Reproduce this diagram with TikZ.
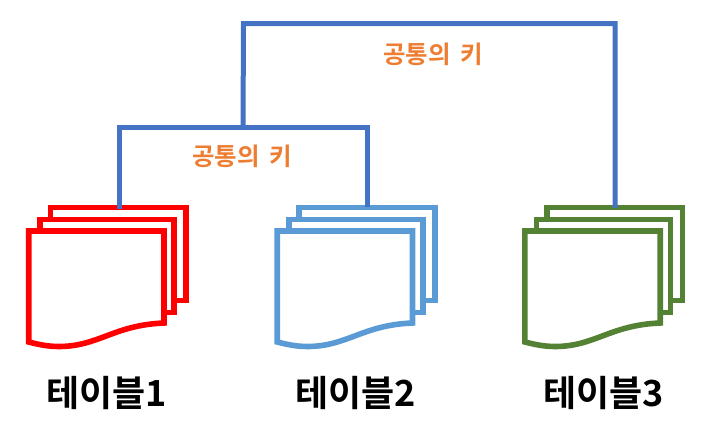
\documentclass[tikz,border=0pt]{standalone}
\usepackage{fontspec}
\newfontfamily\krfont{Noto Sans CJK KR}[BoldFont={Noto Sans CJK KR Bold}]
\definecolor{keyblue}{HTML}{4472C4}
\definecolor{keyorange}{HTML}{ED7D31}
\definecolor{docblue}{HTML}{5B9BD5}
\definecolor{docgreen}{HTML}{548235}
\definecolor{docred}{HTML}{FF0000}
\tikzset{
  link/.style={draw=keyblue,line width=5pt,line join=miter},
  keylabel/.style={text=keyorange,font=\krfont\fontsize{24.5}{28}\selectfont\bfseries,inner sep=0pt},
  tablelabel/.style={text=black,font=\krfont\fontsize{36}{40}\selectfont\bfseries,inner sep=0pt},
  sheet/.style={line width=5.6pt,fill=white,line join=miter,line cap=butt},
  pics/docstack/.style={code={
    \draw[sheet,draw=#1] (21.8,-23.5) rectangle (157.5,69.6);
    \draw[sheet,draw=#1] (11.5,-11.5) rectangle (145.5,81.6);
    \draw[sheet,draw=#1] (0,0) -- (135.3,0) -- (135.3,92)
       .. controls (85,94) and (70,115.5) .. (30,115.5)
       .. controls (18,115.5) and (8,113) .. (0,111) -- cycle;
  }}
}
\begin{document}
\begin{tikzpicture}[x=1pt,y=-1pt]
\useasboundingbox (0,0) rectangle (710,441);
\pic at (28.7,231) {docstack=docred};
\pic at (277.2,231) {docstack=docblue};
\pic at (524.9,231) {docstack=docgreen};
\coordinate (t1) at (119,209);
\coordinate (t2) at (367,207);
\coordinate (t3) at (615,208);
\coordinate (j1) at (243,127.5);
\coordinate (c1) at (119,127.5);
\coordinate (c2) at (367,127.5);
\coordinate (c3) at (243.5,23.7);
\coordinate (c4) at (615,23.7);
\draw[link] (t1) -- (c1) -- (c2) -- (t2);
\draw[link] (j1) -- (c3) -- (c4) -- (t3);
\node[keylabel] (k1) at (433,54) {공통의\hspace{4pt} 키};
\node[keylabel] (k2) at (242,156) {공통의\hspace{4pt} 키};
\node[tablelabel] (n1) at (106.5,393) {테이블1};
\node[tablelabel] (n2) at (355.5,393) {테이블2};
\node[tablelabel] (n3) at (603.5,393) {테이블3};
\end{tikzpicture}
\end{document}
